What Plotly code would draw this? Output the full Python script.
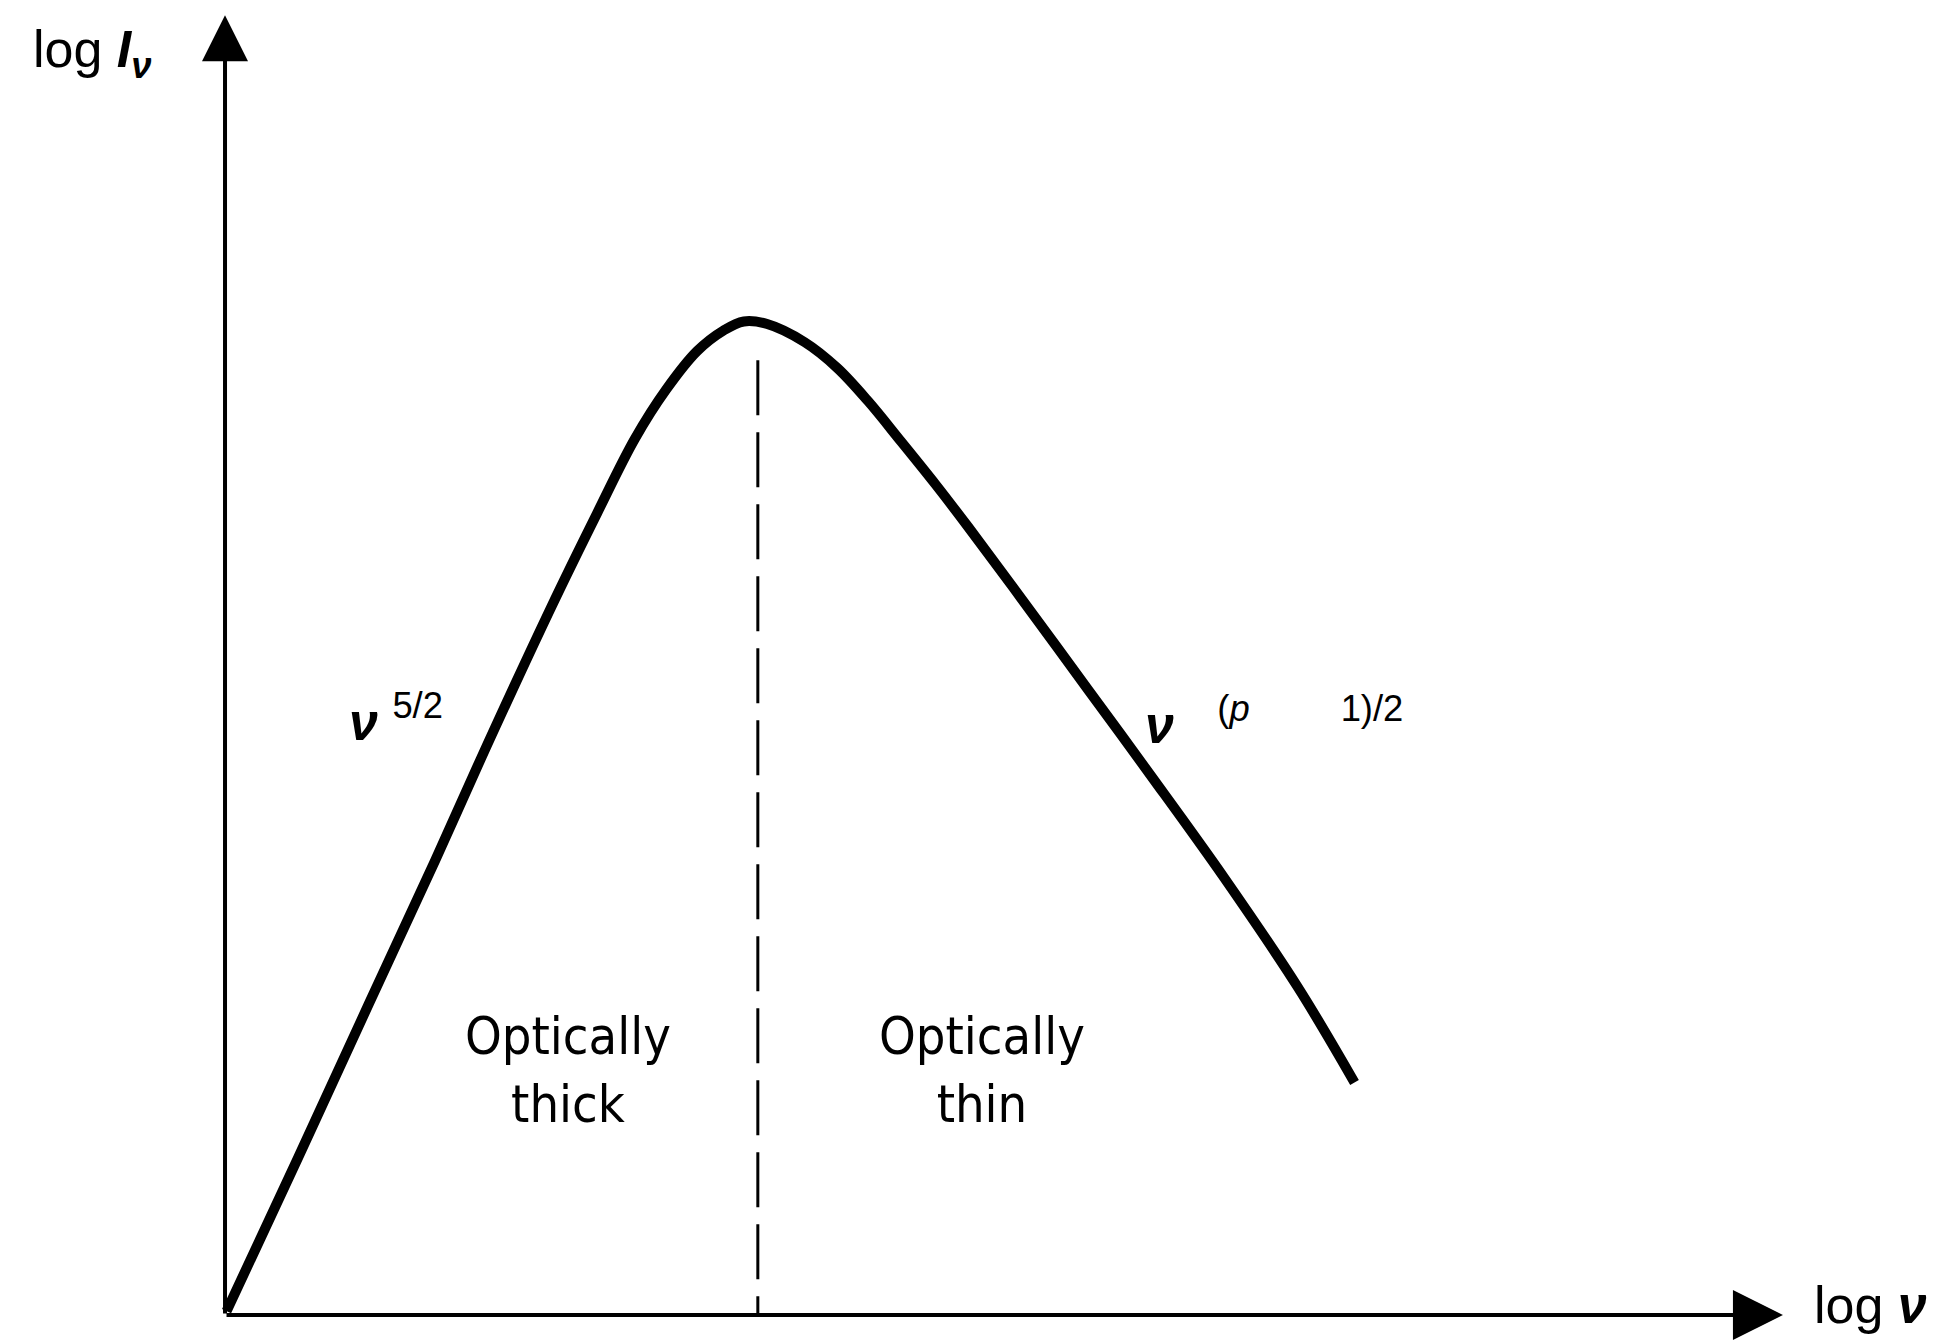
import plotly.graph_objects as go

# spectrum curve (log nu, log I_nu), arbitrary units
log_nu = [0.01, 0.47, 0.92, 1.35, 1.64, 2.09, 2.39, 2.63, 2.83, 3.03, 3.20, 3.33,
          3.48, 3.72, 3.93, 4.13, 4.34, 4.56, 4.77, 5.06, 5.54, 5.94, 6.41, 6.89, 7.25]
log_I = [0.03, 1.22, 2.40, 3.52, 4.30, 5.47, 6.21, 6.78, 7.16, 7.46, 7.62, 7.69,
         7.67, 7.53, 7.33, 7.07, 6.76, 6.43, 6.10, 5.63, 4.84, 4.18, 3.39, 2.53, 1.80]

# turnover frequency (dashed divider)
nu_turn = [3.42, 3.42]
I_turn = [7.39, 0.0]

x_axis_len = 10.0
y_axis_len = 10.06

fig = go.Figure()

fig.add_trace(go.Scatter(
    x=nu_turn, y=I_turn, mode='lines',
    line=dict(color='black', width=3, dash='55px,17px'),
    hoverinfo='skip'
))

fig.add_trace(go.Scatter(
    x=log_nu, y=log_I, mode='lines',
    line=dict(color='black', width=10, shape='spline', smoothing=1.0),
    hoverinfo='skip'
))

# axes drawn as arrows
fig.add_annotation(x=0, y=y_axis_len, ax=0, ay=0, xref='x', yref='y', axref='x', ayref='y',
                   text='', showarrow=True, arrowhead=2, arrowsize=2.3, arrowwidth=4,
                   arrowcolor='black')
fig.add_annotation(x=x_axis_len, y=0, ax=0, ay=0, xref='x', yref='y', axref='x', ayref='y',
                   text='', showarrow=True, arrowhead=2, arrowsize=2.5, arrowwidth=4,
                   arrowcolor='black')

label_font = dict(family='Liberation Sans Narrow, DejaVu Sans Condensed, Liberation Sans',
                  size=52, color='black')
sym_font = dict(family='Liberation Sans, DejaVu Sans', size=52, color='black')

fig.add_annotation(x=-0.85, y=9.77, xref='x', yref='y', showarrow=False,
                   text='log <b><i>I</i></b><sub><b><i>ν</i></b></sub>', font=sym_font)
fig.add_annotation(x=10.56, y=0.08, xref='x', yref='y', showarrow=False,
                   text='log <b><i>ν</i></b>', font=sym_font)
fig.add_annotation(x=0.78, y=4.62, xref='x', yref='y', showarrow=False, xanchor='left',
                   text='<b><i>ν</i></b>\u00a0<sup>5/2</sup>', font=sym_font)
fig.add_annotation(x=5.89, y=4.6, xref='x', yref='y', showarrow=False, xanchor='left',
                   text='<b><i>ν</i></b>\u00a0\u00a0\u00a0<sup>(<i>p</i>'
                        + '\u00a0' * 9 + '1)/2</sup>',
                   font=sym_font)

fig.add_annotation(x=2.20, y=1.9, xref='x', yref='y', showarrow=False,
                   text='Optically<br>thick', font=label_font)
fig.add_annotation(x=4.86, y=1.9, xref='x', yref='y', showarrow=False,
                   text='Optically<br>thin', font=label_font)

fig.update_layout(
    width=1946, height=1341,
    margin=dict(l=0, r=0, t=0, b=0),
    paper_bgcolor='white', plot_bgcolor='white',
    showlegend=False,
    xaxis=dict(visible=False, range=[-1.393, 11.098]),
    yaxis=dict(visible=False, range=[-0.263, 10.116]),
)

fig.write_html("out.html")
